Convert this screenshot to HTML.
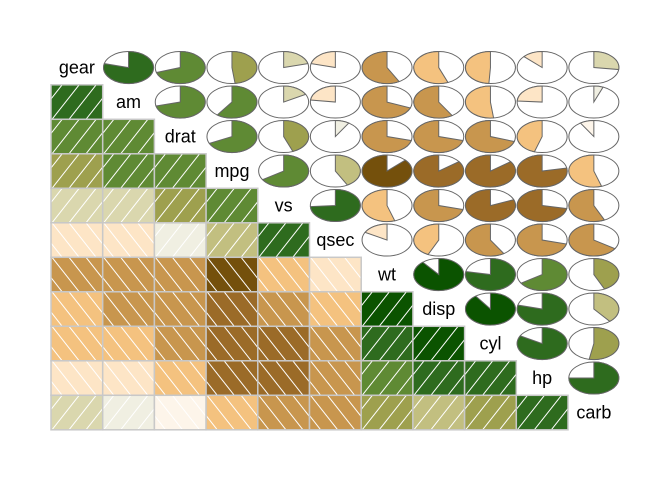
<!DOCTYPE html>
<html><head><meta charset="utf-8"><style>
html,body{margin:0;padding:0;background:#fff;}
svg{display:block;font-family:"Liberation Sans",sans-serif;}
</style></head><body>
<svg id="chart" width="672" height="480" viewBox="0 0 672 480" xmlns="http://www.w3.org/2000/svg"></svg>
<script>
const variables = ["gear","am","drat","mpg","vs","qsec","wt","disp","cyl","hp","carb"];
const corrRows = [
  [1, 0.79, 0.70, 0.48, 0.21, -0.21, -0.58, -0.56, -0.49, -0.13, 0.27],
  [0.79, 1, 0.71, 0.60, 0.17, -0.23, -0.69, -0.59, -0.52, -0.24, 0.06],
  [0.70, 0.71, 1, 0.68, 0.44, 0.09, -0.71, -0.71, -0.70, -0.45, -0.09],
  [0.48, 0.60, 0.68, 1, 0.66, 0.42, -0.87, -0.85, -0.85, -0.78, -0.55],
  [0.21, 0.17, 0.44, 0.66, 1, 0.74, -0.55, -0.71, -0.81, -0.72, -0.57],
  [-0.21, -0.23, 0.09, 0.42, 0.74, 1, -0.17, -0.43, -0.59, -0.71, -0.66],
  [-0.58, -0.69, -0.71, -0.87, -0.55, -0.17, 1, 0.89, 0.78, 0.66, 0.43],
  [-0.56, -0.59, -0.71, -0.85, -0.71, -0.43, 0.89, 1, 0.90, 0.79, 0.39],
  [-0.49, -0.52, -0.70, -0.85, -0.81, -0.59, 0.78, 0.90, 1, 0.83, 0.53],
  [-0.13, -0.24, -0.45, -0.78, -0.72, -0.71, 0.66, 0.79, 0.83, 1, 0.75],
  [0.27, 0.06, -0.09, -0.55, -0.57, -0.66, 0.43, 0.39, 0.53, 0.75, 1]
];
const NS = "http://www.w3.org/2000/svg";
const svg = document.getElementById("chart");
const X0 = 51, Y0 = 50.3, CW = 51.7, CH = 34.5;
function xPos(i){ return X0 + i*CW; }
function yPos(j){ return Y0 + j*CH; }
function color(r){
  if (r >= 0){
    if (r < 0.1) return "#f0efe2";
    if (r < 0.3) return "#dad7ae";
    if (r < 0.43) return "#c2bf80";
    if (r < 0.55) return "#9ea04e";
    if (r < 0.72) return "#5f8a34";
    if (r < 0.85) return "#2e6b1e";
    return "#0b5300";
  } else {
    if (r > -0.1) return "#fdf5ea";
    if (r > -0.3) return "#fde5c6";
    if (r > -0.57) return "#f4c27f";
    if (r > -0.72) return "#c8964e";
    if (r > -0.86) return "#9b6b28";
    return "#74500c";
  }
}
function mk(tag, attrs){
  const e = document.createElementNS(NS, tag);
  for (const k in attrs) e.setAttribute(k, attrs[k]);
  return e;
}
const defs = mk("defs", {});
svg.appendChild(defs);
const n = variables.length;
for (let j = 0; j < n; j++){
  for (let i = 0; i < n; i++){
    const r = corrRows[j][i];
    const x = xPos(i), y = yPos(j);
    if (i === j){
      const t = mk("text", {x: x + CW/2, y: y + CH/2 + 6, "text-anchor":"middle", "font-size":"18", fill:"#000"});
      
      
      t.textContent = variables[i];
      svg.appendChild(t);
    } else if (i < j){
      const g = mk("g", {});
      
      
      const cid = "c" + i + "_" + j;
      const cp = mk("clipPath", {id: cid});
      cp.appendChild(mk("rect", {x:x, y:y, width:CW, height:CH}));
      defs.appendChild(cp);
      g.appendChild(mk("rect", {x:x, y:y, width:CW, height:CH, fill:color(r)}));
      const lg = mk("g", {"clip-path":"url(#"+cid+")", stroke:"#fff", "stroke-width":"1"});
      const dx = CH/1.27, sp = 17;
      for (let k = -4; k < 6; k++){
        const bx = x + 1 + k*sp;
        if (r >= 0) lg.appendChild(mk("line", {x1:bx, y1:y+CH, x2:bx+dx, y2:y}));
        else lg.appendChild(mk("line", {x1:bx, y1:y, x2:bx+dx, y2:y+CH}));
      }
      g.appendChild(lg);
      g.appendChild(mk("rect", {x:x, y:y, width:CW, height:CH, fill:"none", stroke:"#c8c8c8", "stroke-width":"1.5"}));
      svg.appendChild(g);
    } else {
      const g = mk("g", {});
      
      
      const cx = x + CW/2, cy = y + CH/2, rx = 25, ry = 16;
      g.appendChild(mk("ellipse", {cx:cx, cy:cy, rx:rx, ry:ry, fill:"#fff", stroke:"#666", "stroke-width":"1"}));
      const a = Math.abs(r) * 2 * Math.PI;
      const sgn = r >= 0 ? 1 : -1;
      const ex = cx + rx*Math.sin(sgn*a), ey = cy - ry*Math.cos(sgn*a);
      const large = a > Math.PI ? 1 : 0, sweep = r >= 0 ? 1 : 0;
      const d = "M"+cx+","+cy+" L"+cx+","+(cy-ry)+" A"+rx+","+ry+" 0 "+large+" "+sweep+" "+ex+","+ey+" Z";
      g.appendChild(mk("path", {d:d, fill:color(r), stroke:"#666", "stroke-width":"1"}));
      svg.appendChild(g);
    }
  }
}
</script>
</body></html>
